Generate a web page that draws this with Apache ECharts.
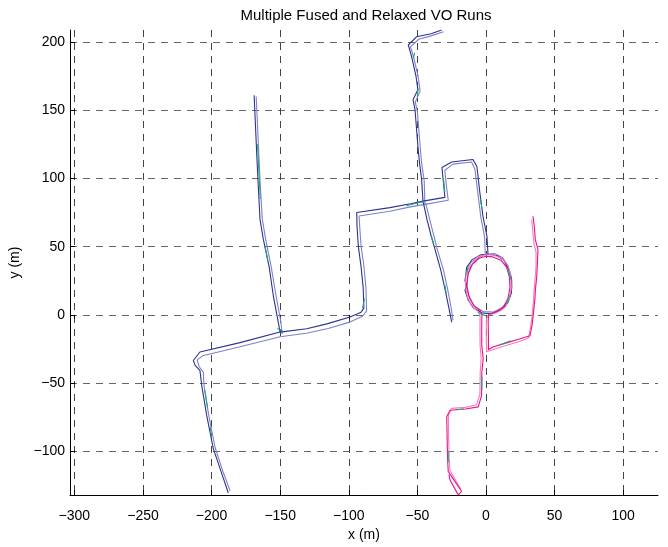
<!DOCTYPE html>
<html><head><meta charset="utf-8">
<script src="https://cdn.jsdelivr.net/npm/echarts@6/dist/echarts.min.js"></script>
<style>html,body{margin:0;padding:0;background:#fff}#c{width:668px;height:547px}</style>
</head><body><div id="c"></div>
<script>
const xTicks = [-300,-250,-200,-150,-100,-50,0,50,100];
const yTicks = [-100,-50,0,50,100,150,200];

// dark blue run
const navyMain = [[-187.8,-130.5],[-193,-115],[-198.8,-97.8],[-203.6,-73.5],[-207.2,-51.6],[-208.5,-40.7],[-212,-37],[-213.3,-33.4],[-208.5,-27.2],[-180,-20.5],[-150.1,-12.6],[-130.7,-10.2],[-116,-6.6],[-99.1,-1.5],[-91,2],[-89,5],[-89.5,20],[-91,35],[-93,50],[-94,65],[-94.2,75.1],[-70,78.6],[-55,81.5],[-45.9,83.4],[-46.9,99.3],[-48.5,112],[-49.6,123.4],[-51.7,150.4],[-53.2,157.7],[-49.6,165],[-51,175],[-54.2,189.3],[-56.6,197.8],[-50.5,203.9],[-40,206],[-32.3,208.8]];
const navyUp = [[-150.1,-12.6],[-151.4,-5.3],[-155,14],[-158,35],[-162.3,55.5],[-164.7,70],[-166,95],[-167,116],[-168.5,150],[-169,161]];
const navyDown = [[-45.9,83.4],[-43,70],[-40,58],[-37.2,48.2],[-33,33],[-29.9,19],[-27,5],[-25,-5.3]];
const navyLoop = [[-45.9,83.4],[-29.9,86.1],[-31,97],[-32.1,108],[-25,112],[-9.5,113.9],[-6.6,108.8],[-4.5,90],[-2.2,72.3],[0.7,57.7],[1.5,44.5],[8,43.5],[13,40],[16.5,33],[18.7,26],[18.5,16],[16,9],[11,3.5],[4,0.8],[-3,1.5],[-9,5],[-13,11],[-15.3,18],[-14,22],[-15.3,25],[-14,35],[-10,40.5],[-4,44],[1.5,44.5]];

// light blue run
const lightMain = [[-186.5,-129],[-192,-114],[-197.5,-97],[-202,-74],[-205.5,-52],[-206,-42],[-209,-38],[-210.5,-33],[-206.5,-30],[-180,-23.5],[-150,-16],[-131,-13.5],[-115,-10],[-100,-5.5],[-90,-1],[-87,3],[-87.5,20],[-89,36],[-91,50],[-92,64],[-92.5,72.5],[-70,76],[-56,79],[-44.5,81],[-45,98],[-47,112],[-48,124],[-50,149],[-51.5,156],[-48,164],[-49.5,175],[-52.5,188],[-55,196.5],[-49,202],[-40,204.5],[-31,207.5]];
const lightUp = [[-148.5,-14],[-149.5,-5],[-153,14],[-156.5,35],[-160.5,55],[-163,70],[-164.5,95],[-165.5,116],[-167,150],[-167.5,160]];
const lightDown = [[-44,82],[-41,70],[-38,58],[-35.5,48],[-31,33],[-28,19],[-25.5,6],[-24,-4]];
const lightLoop = [[-44.5,81],[-27.5,84],[-29,96],[-30,106],[-24,110.5],[-10.5,112],[-8,106.5],[-6,90],[-3.8,72],[-1,57],[-0.5,44.5],[6,45],[12,42],[16,36],[18.5,28],[19,20],[17,12],[12,5.5],[5,2],[-2,2.5],[-8,6],[-12,12],[-14,20],[-13.5,28],[-11.5,35],[-7,41],[-0.5,44.5]];

// magenta run
const magentaMain = [[34.3,72.3],[35.2,65],[36,55],[37.9,48],[37.5,38],[37,28],[36,18],[35.7,11.7],[34.5,0],[33.5,-8],[32.1,-15.3],[25,-17.5],[15,-20.5],[5,-23.5],[1.8,-25.5],[1.8,-15],[1.6,-5],[2,0.5],[8,2.5],[13,6],[16,12],[17.5,20],[17,28],[15,35],[11,40],[5,42.5],[0,43],[-5,41.5],[-10,37],[-13,30],[-14,22],[-12.5,14],[-9,7],[-4,3],[-3,0],[-3.1,-10],[-3.1,-22],[-2,-32],[-3,-42],[-3.2,-59],[-5.6,-67.4],[-15,-69],[-26.2,-69.9],[-28.6,-74.7],[-28.3,-90],[-28,-105],[-27.5,-114.8],[-25,-118.5],[-17.7,-129.4],[-20.2,-131.9],[-26.2,-121],[-27,-117]];
// pink run
const pinkMain = [[33.3,70],[34,63],[35,52],[36.5,46],[36.5,36],[35.8,26],[35,16],[34.5,9],[33.5,-2],[32.5,-9],[31,-17],[24.5,-19.5],[14.5,-22.5],[5,-25.5],[0.5,-27],[0.2,-15],[0.3,-4],[1,-0.5],[7.5,1.5],[14,5.5],[17,12],[18.5,20],[18,29],[16,36.5],[11.5,41.5],[5,44],[-0.5,44],[-6,42.5],[-11,38],[-14.5,30],[-15,22],[-13.5,13],[-10,6],[-5,1.8],[-4.3,-1],[-4.4,-10],[-4.3,-22],[-3.5,-32],[-4.2,-42],[-4.4,-58],[-6.8,-65.8],[-15,-67.8],[-25.2,-68.5],[-27.4,-73.5],[-27.2,-90],[-26.8,-105],[-26.3,-114],[-24,-118],[-18.5,-127.5]];

// green fused fragments
const greenPieces = [
  [[-166.5,125],[-165.5,105],[-164.5,85]],
  [[-161,50],[-159,40]],
  [[-205,-55],[-203,-68]],
  [[-201,-82],[-200,-90]],
  [[-152,-10],[-148,-12]],
  [[-90,5],[-88.5,12]],
  [[-58,80],[-50,82],[-45,83]],
  [[-50,160],[-49.5,166]],
  [[-53,188],[-52,192]],
  [[-30,90],[-31,100]],
  [[-4,85],[-3,78]],
  [[-14,30],[-13,36]],
  [[16,34],[18,26]],
  [[17,14],[15,8]],
  [[-6,2],[-2,0],[1,-1]],
  [[-3,-45],[-3,-55]],
  [[-22,-69.5],[-16,-69]],
  [[-27.5,-100],[-27.5,-108]],
  [[10,-22],[18,-19]],
  [[-40,58],[-38,52]],
  [[-30,22],[-29,16]]
];

const C = {navy:'#2e3192', light:'#7e82c4', magenta:'#ec0f8c', pink:'#f47cc0', green:'#1fa67a'};
const series = [];
function addLine(data, color) {
  series.push({type:'line', data:data, showSymbol:false, symbol:'none', silent:true,
    lineStyle:{color:color, width:1.1}, itemStyle:{color:color}, z:2});
}
[lightMain, lightUp, lightDown, lightLoop].forEach(d => addLine(d, C.light));
[navyMain, navyUp, navyDown, navyLoop].forEach(d => addLine(d, C.navy));
addLine(pinkMain, C.pink);
addLine(magentaMain, C.magenta);
greenPieces.forEach(d => addLine(d, C.green));

const fmt = v => String(v).replace('-', '\u2212');
const lbl = {fontFamily:'Liberation Sans', fontSize:14, color:'#000'};
const chart = echarts.init(document.getElementById('c'), null, {renderer:'canvas'});
chart.setOption({
  animation:false,
  backgroundColor:'#fff',
  title:{text:'Multiple Fused and Relaxed VO Runs', left:361, top:3, textAlign:'center',
    textStyle:{fontFamily:'Liberation Sans', fontSize:15, fontWeight:'normal', color:'#000'}},
  grid:{left:70, right:10, top:30, bottom:50},
  xAxis:[{type:'value', min:-303.2, max:125.4, name:'x (m)', nameLocation:'middle', nameGap:33,
      nameTextStyle:lbl,
      axisLine:{onZero:false, lineStyle:{color:'#000', width:1}},
      axisTick:{inside:true, length:5, customValues:xTicks, lineStyle:{color:'#000'}},
      axisLabel:{customValues:xTicks, formatter:fmt, margin:14, ...lbl},
      splitLine:{show:true, lineStyle:{type:[7,6], color:'#444', width:1}}},
    {type:'value', position:'top', min:-303.2, max:125.4,
      axisLine:{show:false}, axisTick:{inside:true, length:4, customValues:xTicks, lineStyle:{color:'#000'}},
      axisLabel:{show:false}, splitLine:{show:false}}],
  yAxis:[{type:'value', min:-132, max:208.8, name:'y (m)', nameLocation:'middle', nameGap:45,
      nameTextStyle:lbl,
      axisLine:{onZero:false, lineStyle:{color:'#000', width:1}},
      axisTick:{inside:true, length:5, customValues:yTicks, lineStyle:{color:'#000'}},
      axisLabel:{customValues:yTicks, formatter:fmt, margin:5, ...lbl},
      splitLine:{show:true, lineStyle:{type:[7,6], color:'#666', width:1}}}],
  series:series
});
</script></body></html>
